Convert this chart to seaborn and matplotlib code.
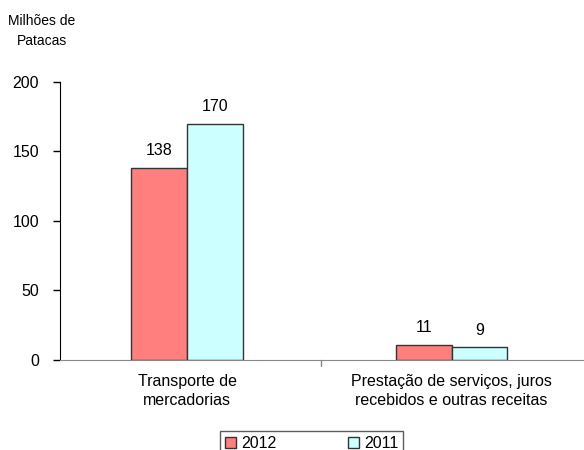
import pandas as pd
import numpy as np
import matplotlib.pyplot as plt
import seaborn as sns
from matplotlib.patches import Patch

# data
categories = ["Transporte de\nmercadorias",
              "Prestação de serviços, juros\nrecebidos e outras receitas"]
years = ["2012", "2011"]
values_2012 = [138, 11]
values_2011 = [170, 9]
colors = {"2012": "#FF7F7F", "2011": "#CCFFFF"}

df = pd.DataFrame({
    "Categoria": categories * 2,
    "Ano": [years[0]] * 2 + [years[1]] * 2,
    "Valor": values_2012 + values_2011,
})

sns.set_style("white")
plt.rcParams['font.family'] = ['Liberation Sans', 'DejaVu Sans']
plt.rcParams['text.color'] = 'black'
plt.rcParams['xtick.color'] = 'black'
plt.rcParams['ytick.color'] = 'black'

fs = 11.5

fig = plt.figure(figsize=(5.84, 4.5), dpi=100)
ax = fig.add_axes([60 / 584, 0.2, 1 - 60 / 584, 0.6178])

sns.barplot(data=df, x="Categoria", y="Valor", hue="Ano", hue_order=years,
            palette=colors, width=0.42, edgecolor="#333333", linewidth=1,
            saturation=1, ax=ax, legend=False)

# value labels
for cont in ax.containers:
    ax.bar_label(cont, fmt="%d", padding=7, fontsize=fs)

ax.set_ylim(0, 200)
ax.set_yticks([0, 50, 100, 150, 200])
ax.set_xlim(-0.48, 1.5)
ax.set_xlabel("")
ax.set_ylabel("")

ax.spines["top"].set_visible(False)
ax.spines["right"].set_visible(False)
ax.spines["left"].set_color("black")
ax.spines["bottom"].set_color("#888888")
ax.tick_params(axis="y", direction="out", length=5, width=1, color="black",
               left=True, labelsize=fs, pad=10)
ax.tick_params(axis="x", length=0, labelsize=fs, pad=10)
for lbl in ax.get_xticklabels():
    lbl.set_linespacing(1.35)

# small divider tick between the categories
ax.plot([0.505, 0.505], [0, -4], color="#888888", lw=1, clip_on=False)

fig.text(42 / 584, 1 - 31 / 450, "Milhões de\nPatacas", ha="center",
         va="center", fontsize=10, linespacing=1.5)

handles = [Patch(facecolor=colors[y], edgecolor="#333333", label=y) for y in years]
leg = fig.legend(handles=handles, loc="upper left", ncol=2, mode="expand",
                 bbox_to_anchor=(220 / 584, 0, 183 / 584, 1 - 431 / 450),
                 frameon=True, fancybox=False, edgecolor="#333333", fontsize=fs,
                 handlelength=0.7, handleheight=0.7, handletextpad=0.3,
                 borderpad=0.3, borderaxespad=0)
leg.get_frame().set_linewidth(1)

fig.savefig("out.png", dpi=100)
